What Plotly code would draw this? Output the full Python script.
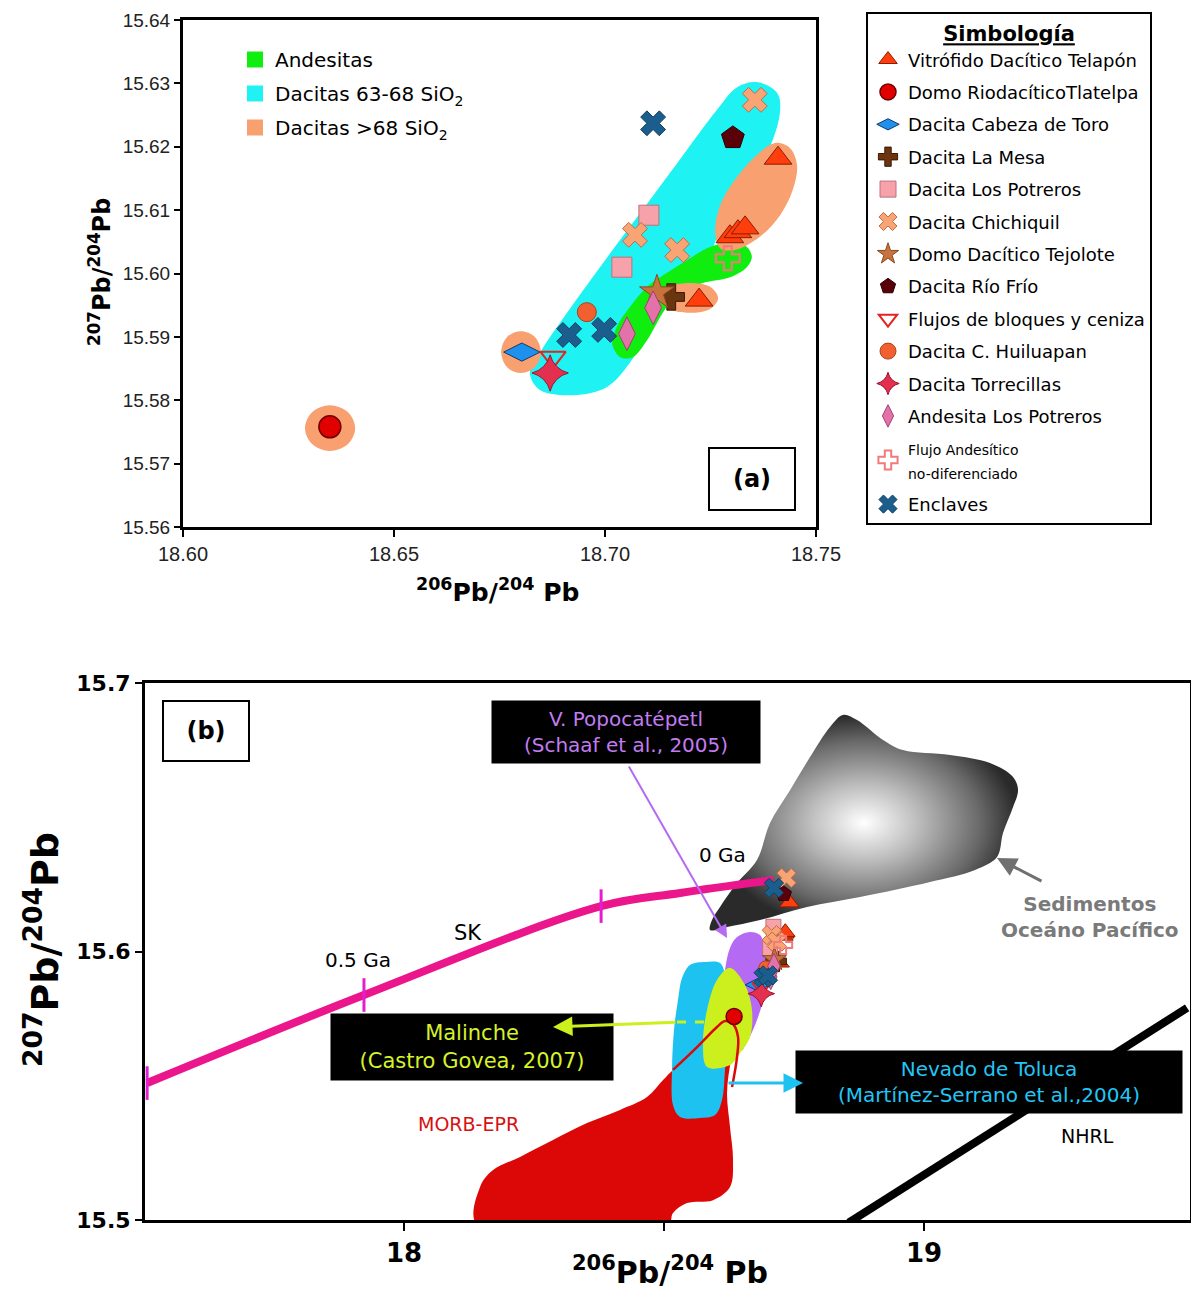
import plotly.graph_objects as go

# ---------------- sample data (206Pb/204Pb , 207Pb/204Pb) ----------------
TELAPON_X = [18.7410, 18.7296, 18.7315, 18.7332, 18.7223]
TELAPON_Y = [15.6182, 15.6058, 15.6066, 15.6072, 15.5958]
TLATELPA_X = [18.6348]
TLATELPA_Y = [15.5758]
CABEZA_X = [18.6803]
CABEZA_Y = [15.5876]
LAMESA_X = [18.7157]
LAMESA_Y = [15.5963]
POTREROS_X = [18.7104, 18.7040]
POTREROS_Y = [15.6092, 15.6010]
CHICHIQUIL_X = [18.7355, 18.7071, 18.7171]
CHICHIQUIL_Y = [15.6274, 15.6061, 15.6037]
TEJOLOTE_X = [18.7123]
TEJOLOTE_Y = [15.5970]
RIOFRIO_X = [18.7303]
RIOFRIO_Y = [15.6214]
FLUJOS_X = [18.6877]
FLUJOS_Y = [15.5868]
HUILUAPAN_X = [18.6957]
HUILUAPAN_Y = [15.5939]
TORRECILLAS_X = [18.6870]
TORRECILLAS_Y = [15.5843]
ANDESITA_X = [18.7052, 18.7114]
ANDESITA_Y = [15.5905, 15.5946]
FLUJO_AND_X = [18.7291]
FLUJO_AND_Y = [15.6024]
ENCLAVES_X = [18.7114, 18.6915, 18.6998]
ENCLAVES_Y = [15.6237, 15.5903, 15.5911]

LEGEND_NAMES = [
    "Vitrófido Dacítico Telapón", "Domo RiodacíticoTlatelpa", "Dacita Cabeza de Toro",
    "Dacita La Mesa", "Dacita Los Potreros", "Dacita Chichiquil", "Domo Dacítico Tejolote",
    "Dacita Río Frío", "Flujos de bloques y ceniza", "Dacita C. Huiluapan",
    "Dacita Torrecillas", "Andesita Los Potreros",
    "<span style='font-size:14px'>Flujo Andesítico<br>no-diferenciado</span>", "Enclaves",
]
SERIES_X = [TELAPON_X, TLATELPA_X, CABEZA_X, LAMESA_X, POTREROS_X, CHICHIQUIL_X, TEJOLOTE_X,
            RIOFRIO_X, FLUJOS_X, HUILUAPAN_X, TORRECILLAS_X, ANDESITA_X, FLUJO_AND_X, ENCLAVES_X]
SERIES_Y = [TELAPON_Y, TLATELPA_Y, CABEZA_Y, LAMESA_Y, POTREROS_Y, CHICHIQUIL_Y, TEJOLOTE_Y,
            RIOFRIO_Y, FLUJOS_Y, HUILUAPAN_Y, TORRECILLAS_Y, ANDESITA_Y, FLUJO_AND_Y, ENCLAVES_Y]

# ---------------- fields in panel (a) ----------------
REGION_NAMES = ["Andesitas", "Dacitas 63-68 SiO<sub>2</sub>", "Dacitas >68 SiO<sub>2</sub>"]
CYAN_A_X = [18.7360, 18.7408, 18.7415, 18.7391, 18.7327, 18.7273, 18.7242, 18.7171, 18.7100, 18.7059,
            18.7005, 18.6924, 18.6846, 18.6822, 18.6846, 18.6910, 18.6988, 18.7083, 18.7171, 18.7265, 18.7313]
CYAN_A_Y = [15.6302, 15.6285, 15.6258, 15.6200, 15.6132, 15.6069, 15.6021, 15.5969, 15.5906, 15.5859,
            15.5821, 15.5808, 15.5816, 15.5843, 15.5875, 15.5938, 15.6010, 15.6095, 15.6174, 15.6258, 15.6294]
GREEN_A_X = [18.7019, 18.7036, 18.7066, 18.7100, 18.7137, 18.7171, 18.7232, 18.7296, 18.7336, 18.7348,
             18.7336, 18.7296, 18.7249, 18.7194, 18.7147, 18.7100, 18.7059, 18.7028, 18.7017]
GREEN_A_Y = [15.5884, 15.5868, 15.5868, 15.5895, 15.5938, 15.5969, 15.5985, 15.5994, 15.6010, 15.6026,
             15.6042, 15.6048, 15.6042, 15.6021, 15.6001, 15.5979, 15.5947, 15.5916, 15.5890]
ORANGE1_X = [18.6848, 18.6834, 18.6801, 18.6768, 18.6754, 18.6768, 18.6801, 18.6834]
ORANGE1_Y = [15.5876, 15.5900, 15.5909, 15.5900, 15.5876, 15.5852, 15.5843, 15.5852]
ORANGE2_X = [18.6408, 18.6391, 18.6348, 18.6306, 18.6289, 18.6306, 18.6348, 18.6391]
ORANGE2_Y = [15.5756, 15.5781, 15.5792, 15.5781, 15.5756, 15.5731, 15.5720, 15.5731]
ORANGE3_X = [18.7268, 18.7249, 18.7201, 18.7154, 18.7135, 18.7154, 18.7201, 18.7249]
ORANGE3_Y = [15.5961, 15.5979, 15.5985, 15.5979, 15.5961, 15.5944, 15.5938, 15.5944]
ORANGE4_X = [18.7403, 18.7438, 18.7455, 18.7445, 18.7415, 18.7367, 18.7308, 18.7273, 18.7261, 18.7273, 18.7308, 18.7355]
ORANGE4_Y = [15.6206, 15.6198, 15.6171, 15.6132, 15.6092, 15.6058, 15.6037, 15.6040, 15.6065, 15.6108, 15.6148, 15.6184]

# ---------------- fields in panel (b) ----------------
GRAY_X = [18.8442, 18.8712, 18.9212, 18.9596, 19.0500, 19.1269, 19.1712, 19.1808, 19.1712, 19.1519, 19.1404,
          19.0981, 19.0115, 18.8769, 18.7750, 18.6846, 18.6212, 18.5885, 18.5923, 18.6077, 18.6404, 18.6788,
          18.7038, 18.7423, 18.7808, 18.8192]
GRAY_Y = [15.6881, 15.6862, 15.6788, 15.6750, 15.6732, 15.6702, 15.6650, 15.6601, 15.6538, 15.6441, 15.6352,
          15.6304, 15.6259, 15.6203, 15.6166, 15.6117, 15.6091, 15.6080, 15.6117, 15.6166, 15.6255, 15.6341,
          15.6479, 15.6601, 15.6724, 15.6836]
MORB_X = [18.1404, 18.1462, 18.1712, 18.2231, 18.2865, 18.3519, 18.4154, 18.4673, 18.4981, 18.5173, 18.5442,
          18.5788, 18.6173, 18.6404, 18.6288, 18.6212, 18.6269, 18.6327, 18.6269, 18.5942, 18.5442, 18.5173, 18.5077]
MORB_Y = [15.4981, 15.5123, 15.5186, 15.5235, 15.5298, 15.5361, 15.5410, 15.5458, 15.5521, 15.5559, 15.5596,
          15.5641, 15.5678, 15.5689, 15.5596, 15.5473, 15.5346, 15.5223, 15.5123, 15.5074, 15.5063, 15.5026, 15.4981]
MORB_LOOP_X = [18.5173, 18.5635, 18.6019, 18.6173, 18.6327, 18.6423, 18.6404, 18.6308]
MORB_LOOP_Y = [15.5559, 15.5644, 15.5719, 15.5741, 15.5730, 15.5682, 15.5607, 15.5495]
TOLUCA_X = [18.5500, 18.5788, 18.6077, 18.6173, 18.6192, 18.6212, 18.6173, 18.6115, 18.5981, 18.5692,
            18.5308, 18.5173, 18.5154, 18.5192, 18.5269, 18.5346]
TOLUCA_Y = [15.5950, 15.5961, 15.5957, 15.5912, 15.5819, 15.5670, 15.5559, 15.5447, 15.5391, 15.5380,
            15.5384, 15.5428, 15.5559, 15.5708, 15.5819, 15.5901]
POPO_X = [18.6269, 18.6404, 18.6654, 18.6846, 18.6942, 18.6962, 18.6904, 18.6788, 18.6615, 18.6462,
          18.6269, 18.6115, 18.6115, 18.6173]
POPO_Y = [15.6013, 15.6054, 15.6073, 15.6061, 15.6006, 15.5912, 15.5819, 15.5745, 15.5670, 15.5626,
          15.5633, 15.5708, 15.5819, 15.5931]
MALINCHE_X = [18.6269, 18.6558, 18.6692, 18.6654, 18.6462, 18.6269, 18.5827, 18.5750, 18.5827, 18.6019]
MALINCHE_Y = [15.5939, 15.5875, 15.5782, 15.5682, 15.5622, 15.5577, 15.5570, 15.5659, 15.5782, 15.5894]

SK_X = [17.506, 17.923, 18.379, 18.531, 18.710]
SK_Y = [15.551, 15.5838, 15.6169, 15.6218, 15.6266]
NHRL_X = [18.855, 19.506]
NHRL_Y = [15.499, 15.579]

# arrows (tail -> tip) in panel (b) data units
POPO_ARROW = [18.4308, 15.6695, 18.6212, 15.6050]
MALINCHE_ARROW = [18.5250, 15.5737, 18.2865, 15.5719]
MALINCHE_DASH_X = [18.5250, 18.5980]
MALINCHE_DASH_Y = [15.5737, 15.5737]
TOLUCA_ARROW = [18.6212, 15.5510, 18.7673, 15.5510]
SED_ARROW = [19.2288, 15.6259, 19.1404, 15.6348]

# ---------------- styles ----------------
COMIC = "DejaVu Sans"
STYLES = [
    dict(symbol="triangle-up", color="#ff3d0d", edge="#8a1c00", sa=24, sb=17, lw=1),
    dict(symbol="circle", color="#e00000", edge="#700000", sa=22, sb=16, lw=1.5),
    dict(symbol="diamond-wide", color="#1e90ee", edge="#133a6a", sa=26, sb=18, lw=1),
    dict(symbol="cross", color="#6b3510", edge="#3a1805", sa=22, sb=17, lw=1),
    dict(symbol="square", color="#f7a2aa", edge="#c0707a", sa=20, sb=15, lw=1),
    dict(symbol="x", color="#f8a474", edge="#c46a44", sa=22, sb=17, lw=1),
    dict(symbol="star", color="#c8733e", edge="#8a4a20", sa=26, sb=18, lw=1),
    dict(symbol="pentagon", color="#5a0008", edge="#2a0000", sa=24, sb=16, lw=1),
    dict(symbol="triangle-down-open", color="#e02525", edge="#e02525", sa=22, sb=16, lw=2),
    dict(symbol="circle", color="#f26030", edge="#b04020", sa=19, sb=14, lw=1),
    dict(symbol="star-diamond", color="#e2304e", edge="#a01030", sa=26, sb=19, lw=1),
    dict(symbol="diamond-tall", color="#e472aa", edge="#a04070", sa=24, sb=18, lw=1),
    dict(symbol="cross-open", color="#f27a7a", edge="#f27a7a", sa=20, sb=15, lw=2),
    dict(symbol="x", color="#1b5e8e", edge="#10405f", sa=22, sb=17, lw=1),
]

fig = go.Figure()


def region(x, y, color, xa, ya, **kw):
    fig.add_trace(go.Scatter(
        x=list(x) + [x[0]], y=list(y) + [y[0]], mode="lines", fill="toself",
        fillcolor=color, line=dict(width=0, shape="spline", smoothing=1.0, color=color),
        hoverinfo="skip", showlegend=False, xaxis=xa, yaxis=ya, **kw))


# ----- panel (a) fields -----
CYAN_A, GREEN_A, ORANGE_A = "#1ef2f2", "#10ee10", "#f9a070"
region(CYAN_A_X, CYAN_A_Y, CYAN_A, "x", "y")
region(GREEN_A_X, GREEN_A_Y, GREEN_A, "x", "y")
for ox, oy in [(ORANGE1_X, ORANGE1_Y), (ORANGE2_X, ORANGE2_Y), (ORANGE3_X, ORANGE3_Y), (ORANGE4_X, ORANGE4_Y)]:
    region(ox, oy, ORANGE_A, "x", "y")

for nm, col in zip(REGION_NAMES, [GREEN_A, CYAN_A, ORANGE_A]):
    fig.add_trace(go.Scatter(x=[None], y=[None], mode="markers", name=nm,
                             marker=dict(symbol="square", size=20, color=col),
                             legend="legend", legendgroup=nm, showlegend=True, xaxis="x", yaxis="y"))

# ----- panel (b) fields -----
fig.add_trace(go.Scatter(
    x=GRAY_X + [GRAY_X[0]], y=GRAY_Y + [GRAY_Y[0]], mode="lines", fill="toself",
    fillgradient=dict(type="radial", colorscale=[[0, "#ffffff"], [0.35, "#bdbdbd"], [0.75, "#6a6a6a"], [1, "#2a2a2a"]]),
    line=dict(width=0, shape="spline", smoothing=1.0), hoverinfo="skip", showlegend=False,
    xaxis="x2", yaxis="y2"))
region(MORB_X, MORB_Y, "#dc0808", "x2", "y2")
region(TOLUCA_X, TOLUCA_Y, "#1ec2f0", "x2", "y2")
region(POPO_X, POPO_Y, "#b46af2", "x2", "y2")
region(MALINCHE_X, MALINCHE_Y, "#ccf01e", "x2", "y2")
fig.add_trace(go.Scatter(x=MORB_LOOP_X, y=MORB_LOOP_Y, mode="lines",
                         line=dict(color="#dc0808", width=2.5, shape="spline"),
                         hoverinfo="skip", showlegend=False, xaxis="x2", yaxis="y2"))
fig.add_trace(go.Scatter(x=MALINCHE_DASH_X, y=MALINCHE_DASH_Y, mode="lines",
                         line=dict(color="#ccf01e", width=3, dash="dash"),
                         hoverinfo="skip", showlegend=False, xaxis="x2", yaxis="y2"))
fig.add_trace(go.Scatter(x=SK_X, y=SK_Y, mode="lines", line=dict(color="#ec168c", width=8, shape="spline"),
                         hoverinfo="skip", showlegend=False, xaxis="x2", yaxis="y2"))
fig.add_trace(go.Scatter(x=SK_X[:3], y=SK_Y[:3], mode="markers",
                         marker=dict(symbol="line-ns", size=24, line=dict(color="#e020d0", width=3)),
                         hoverinfo="skip", showlegend=False, xaxis="x2", yaxis="y2", cliponaxis=False))
fig.add_trace(go.Scatter(x=NHRL_X, y=NHRL_Y, mode="lines", line=dict(color="black", width=8),
                         hoverinfo="skip", showlegend=False, xaxis="x2", yaxis="y2"))

# ----- sample markers -----
for nm, xs, ys, st in zip(LEGEND_NAMES, SERIES_X, SERIES_Y, STYLES):
    for xa, ya, size, show in [("x", "y", st["sa"], True), ("x2", "y2", st["sb"], False)]:
        fig.add_trace(go.Scatter(
            x=xs, y=ys, mode="markers", name=nm, legend="legend2", legendgroup=nm, showlegend=show,
            marker=dict(symbol=st["symbol"], size=size, color=st["color"],
                        line=dict(color=st["edge"], width=st["lw"])),
            hoverinfo="skip", xaxis=xa, yaxis=ya))

# ---------------- layout ----------------
def px(x):
    return x / 1191.0


def py(y):
    return 1 - y / 1291.0


axis_common = dict(showline=True, linewidth=3, linecolor="black", mirror=True, ticks="outside",
                   tickwidth=2, tickcolor="black", showgrid=False, zeroline=False, fixedrange=True,
                   automargin=False)


def label(xp, yp, text, size, color="black", **kw):
    d = dict(x=px(xp), y=py(yp), xref="paper", yref="paper", text=text, showarrow=False,
             xanchor="center", yanchor="middle", font=dict(family=COMIC, size=size, color=color))
    d.update(kw)
    return d


ann = [
    label(752, 479, "<b>(a)</b>", 24, bgcolor="white", bordercolor="black", borderwidth=2, width=82, height=58),
    label(206, 731, "<b>(b)</b>", 24, bgcolor="white", bordercolor="black", borderwidth=2, width=82, height=56),
    label(626, 732, "V. Popocatépetl<br>(Schaaf et al., 2005)", 20, "#c27cf2", bgcolor="black", width=266, height=60),
    label(472, 1047, "Malinche<br>(Castro Govea, 2007)", 21, "#d6f22a", bgcolor="black", width=280, height=64),
    label(989, 1082, "Nevado de Toluca<br>(Martínez-Serrano et al.,2004)", 20, "#22c6f6", bgcolor="black",
          width=384, height=60),
    label(468, 1124, "MORB-EPR", 19, "#d81010"),
    label(1087, 1136, "NHRL", 19),
    label(468, 933, "SK", 21),
    label(358, 960, "0.5 Ga", 20),
    label(722, 855, "0 Ga", 20),
    label(1090, 917, "<b>Sedimentos<br>Oceáno Pacífico</b>", 20, "#7a7a7a"),
    label(100, 272, "<b><sup>207</sup>Pb/<sup>204</sup>Pb</b>", 24, textangle=-90),
    label(497, 590, "<b><sup>206</sup>Pb/<sup>204</sup> Pb</b>", 25),
    label(42, 950, "<b><sup>207</sup>Pb/<sup>204</sup>Pb</b>", 38, textangle=-90),
    label(670, 1270, "<b><sup>206</sup>Pb/<sup>204</sup> Pb</b>", 30),
]
for arr, col, w in [(POPO_ARROW, "#b46af2", 2), (MALINCHE_ARROW, "#ccf01e", 3),
                    (TOLUCA_ARROW, "#1ec2f0", 3), (SED_ARROW, "#707070", 3)]:
    ann.append(dict(x=arr[2], y=arr[3], ax=arr[0], ay=arr[1], xref="x2", yref="y2", axref="x2", ayref="y2",
                    text="", showarrow=True, arrowhead=2, arrowsize=1.3, arrowwidth=w, arrowcolor=col))

fig.update_layout(
    width=1191, height=1291, margin=dict(l=0, r=0, t=0, b=0, pad=0, autoexpand=False),
    paper_bgcolor="white", plot_bgcolor="white", showlegend=True, hovermode=False,
    legend=dict(x=px(235), y=py(40), xanchor="left", yanchor="top", bgcolor="rgba(0,0,0,0)",
                font=dict(family=COMIC, size=20, color="black"), traceorder="grouped", tracegroupgap=5,
                itemclick=False, itemdoubleclick=False),
    legend2=dict(x=px(866), y=py(12), xanchor="left", yanchor="top", bgcolor="white",
                 bordercolor="black", borderwidth=2,
                 font=dict(family=COMIC, size=18, color="black"), traceorder="grouped", tracegroupgap=6,
                 title=dict(text="<b><u>Simbología</u></b>", side="top center",
                            font=dict(family=COMIC, size=21, color="black")),
                 itemclick=False, itemdoubleclick=False),
    xaxis=dict(domain=[px(183), px(816)], range=[18.60, 18.75], anchor="y",
               tickvals=[18.60, 18.65, 18.70, 18.75], ticktext=["18.60", "18.65", "18.70", "18.75"],
               ticklen=7, tickfont=dict(family="Liberation Sans", size=20, color="#222"), **axis_common),
    yaxis=dict(domain=[py(527), py(20)], range=[15.56, 15.64], anchor="x",
               tickvals=[15.56 + 0.01 * i for i in range(9)],
               ticktext=["15.56", "15.57", "15.58", "15.59", "15.60", "15.61", "15.62", "15.63", "15.64"],
               ticklen=6, tickfont=dict(family="Liberation Sans", size=19, color="#222"), **axis_common),
    xaxis2=dict(domain=[px(145), px(1190)], range=[17.5019, 19.5115], anchor="y2",
                tickvals=[18, 18.5, 19], ticktext=["<b>18</b>", "", "<b>19</b>"], ticklen=8,
                tickfont=dict(family=COMIC, size=26, color="black"), **axis_common),
    yaxis2=dict(domain=[py(1220), py(683)], range=[15.5, 15.7], anchor="x2",
                tickvals=[15.5, 15.6, 15.7], ticktext=["<b>15.5</b>", "<b>15.6</b>", "<b>15.7</b>"], ticklen=7,
                tickfont=dict(family=COMIC, size=22, color="black"), **axis_common),
    annotations=ann,
)

fig.write_html("out.html", config={"displayModeBar": False})
